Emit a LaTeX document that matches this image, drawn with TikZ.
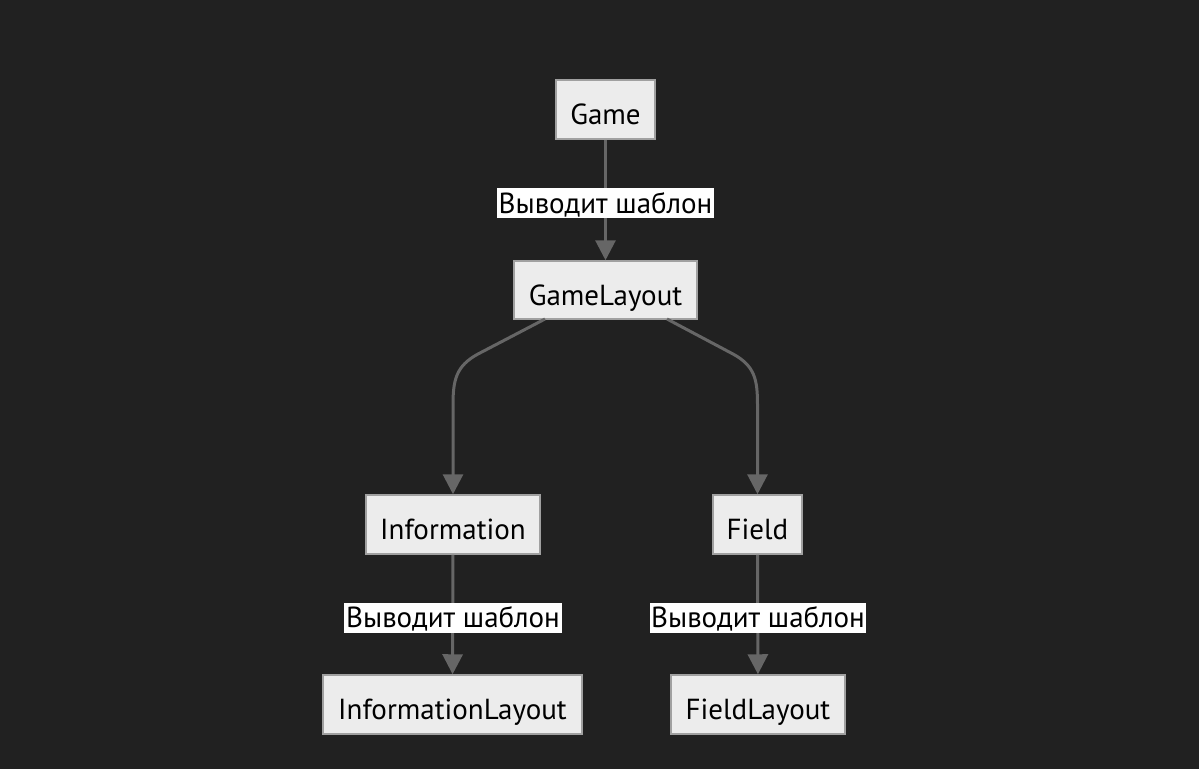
\documentclass[tikz,border=0pt]{standalone}
\usepackage{fontspec}
\setmainfont{PT Sans}
\usetikzlibrary{arrows.meta}
\definecolor{bg}{HTML}{212121}
\definecolor{boxfill}{HTML}{ECECEC}
\definecolor{boxline}{HTML}{A0A0A0}
\definecolor{edge}{HTML}{666666}
\begin{document}
\begin{tikzpicture}[x=1pt,y=-1pt,
  box/.style={draw=boxline, fill=boxfill, line width=1.5pt, inner sep=0pt, text=black,
    text height=30pt, text depth=0pt, font=\fontsize{29}{34}\selectfont},
  lbl/.style={fill=white, inner sep=0pt, text=black, minimum height=30pt,
    text height=20pt, text depth=0pt, font=\fontsize{29}{34}\selectfont},
  conn/.style={draw=edge, line width=3pt, -{Triangle[length=20pt,width=20pt]}}]
\fill[bg] (0,0) rectangle (1199,769);
\useasboundingbox (0,0) rectangle (1199,769);
\node[box, minimum width=99pt, minimum height=59pt] (game) at (605.5,109.5) {Game};
\node[box, minimum width=183pt, minimum height=58pt] (gl) at (605.5,290) {GameLayout};
\node[box, minimum width=174pt, minimum height=59pt] (info) at (453,524.5) {Information};
\node[box, minimum width=89pt, minimum height=59pt] (field) at (757.5,524.5) {Field};
\node[box, minimum width=259pt, minimum height=59pt] (il) at (452.5,704.5) {InformationLayout};
\node[box, minimum width=174pt, minimum height=59pt] (fl) at (758,704.5) {FieldLayout};
\coordinate (a1) at (545,319);
\coordinate (a2) at (667,319);
\draw[conn] (game) -- (gl);
\draw[conn] (a1) -- (478,354) .. controls (456,366) and (453,380) .. (453,405) -- (info.north);
\draw[conn] (a2) -- (733,354) .. controls (755,366) and (757.5,380) .. (757.5,405) -- (field.north);
\draw[conn] (info) -- (il);
\draw[conn] (field) -- (fl);
\node[lbl, minimum width=217pt] (l1) at (605.5,203) {Выводит шаблон};
\node[lbl, minimum width=218pt] (l2) at (453,617.5) {Выводит шаблон};
\node[lbl, minimum width=216pt] (l3) at (758,617.5) {Выводит шаблон};
\end{tikzpicture}
\end{document}
